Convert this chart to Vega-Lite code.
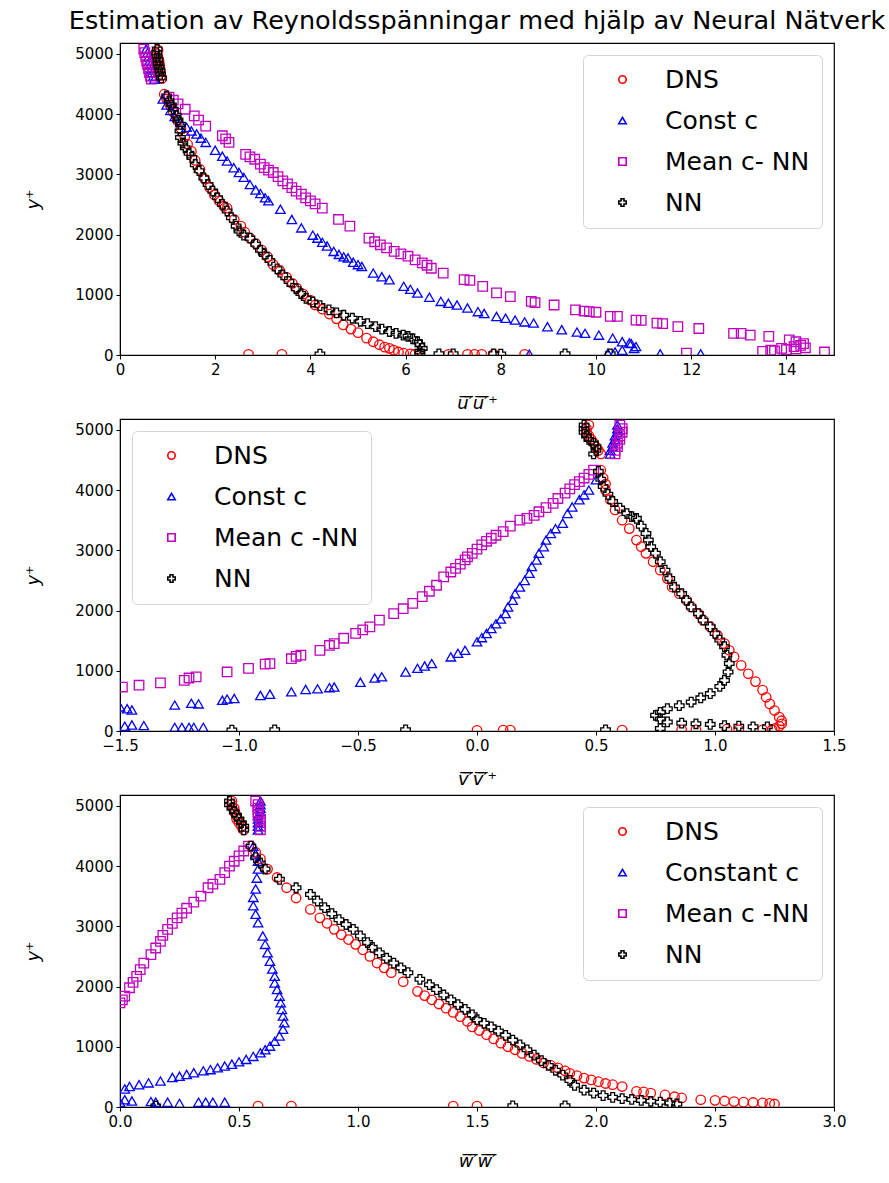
{
"$schema":"https://vega.github.io/schema/vega-lite/v6.json",
"padding":{"left":24,"top":8,"right":5,"bottom":5},
"background":"white",
"title":{"text":"Estimation av Reynoldsspänningar med hjälp av Neural Nätverk","font":"DejaVu Sans","fontSize":25.5,"fontWeight":"normal","color":"black","anchor":"middle","frame":"group","offset":8},
"config":{
 "font":"DejaVu Sans",
 "view":{"stroke":"black","strokeWidth":1.2},
 "axis":{"domainColor":"black","tickColor":"black","labelColor":"black","titleColor":"black","grid":false,"labelFontSize":15,"labelFont":"DejaVu Sans","tickSize":4,"labelPadding":3,"titleFontWeight":"normal","titleFontSize":18,"titleFont":"DejaVu Sans","labelFlush":false,"labelOverlap":false},
 "axisY":{"titlePadding":32,"titleFontStyle":"italic"},
 "axisX":{"titlePadding":17,"titleFontStyle":"italic"},
 "legend":{"offset":12,"padding":12,"labelFontSize":25,"labelFont":"DejaVu Sans","labelColor":"black","rowPadding":15,"symbolSize":55,"symbolStrokeWidth":1.6,"symbolOffset":15,"labelOffset":30,"strokeColor":"#d4d4d4","strokeWidth":1,"cornerRadius":5,"fillColor":"white","title":null}
},
"data":{"values":[
{"p":1,"s":"DNS","x":0.80,"y":5060},{"p":1,"s":"DNS","x":0.78,"y":5000},{"p":1,"s":"DNS","x":0.80,"y":4940},{"p":1,"s":"DNS","x":0.82,"y":4880},{"p":1,"s":"DNS","x":0.83,"y":4820},{"p":1,"s":"DNS","x":0.84,"y":4760},{"p":1,"s":"DNS","x":0.85,"y":4700},{"p":1,"s":"DNS","x":0.86,"y":4640},{"p":1,"s":"DNS","x":0.88,"y":4590},
{"p":1,"s":"DNS","x":0.93,"y":4330},{"p":1,"s":"DNS","x":0.98,"y":4250},{"p":1,"s":"DNS","x":1.05,"y":4150},{"p":1,"s":"DNS","x":1.12,"y":4030},{"p":1,"s":"DNS","x":1.2,"y":3900},{"p":1,"s":"DNS","x":1.28,"y":3760},{"p":1,"s":"DNS","x":1.36,"y":3620},{"p":1,"s":"DNS","x":1.42,"y":3500},{"p":1,"s":"DNS","x":1.5,"y":3380},{"p":1,"s":"DNS","x":1.58,"y":3230},{"p":1,"s":"DNS","x":1.68,"y":3080},{"p":1,"s":"DNS","x":1.78,"y":2920},{"p":1,"s":"DNS","x":1.88,"y":2780},{"p":1,"s":"DNS","x":1.98,"y":2660},{"p":1,"s":"DNS","x":2.08,"y":2560},{"p":1,"s":"DNS","x":2.18,"y":2470},{"p":1,"s":"DNS","x":2.25,"y":2440},{"p":1,"s":"DNS","x":2.4,"y":2250},{"p":1,"s":"DNS","x":2.54,"y":2140},{"p":1,"s":"DNS","x":2.62,"y":2040},{"p":1,"s":"DNS","x":2.73,"y":1940},{"p":1,"s":"DNS","x":2.85,"y":1850},{"p":1,"s":"DNS","x":2.98,"y":1740},{"p":1,"s":"DNS","x":3.1,"y":1630},{"p":1,"s":"DNS","x":3.22,"y":1500},{"p":1,"s":"DNS","x":3.35,"y":1410},{"p":1,"s":"DNS","x":3.5,"y":1290},{"p":1,"s":"DNS","x":3.62,"y":1190},{"p":1,"s":"DNS","x":3.71,"y":1110},{"p":1,"s":"DNS","x":3.85,"y":1010},{"p":1,"s":"DNS","x":4.0,"y":910},{"p":1,"s":"DNS","x":4.1,"y":830},{"p":1,"s":"DNS","x":4.25,"y":760},{"p":1,"s":"DNS","x":4.4,"y":680},{"p":1,"s":"DNS","x":4.55,"y":600},{"p":1,"s":"DNS","x":4.69,"y":500},{"p":1,"s":"DNS","x":4.85,"y":430},{"p":1,"s":"DNS","x":5.0,"y":370},{"p":1,"s":"DNS","x":5.18,"y":280},{"p":1,"s":"DNS","x":5.32,"y":220},{"p":1,"s":"DNS","x":5.45,"y":170},{"p":1,"s":"DNS","x":5.56,"y":130},{"p":1,"s":"DNS","x":5.66,"y":110},{"p":1,"s":"DNS","x":5.75,"y":80},{"p":1,"s":"DNS","x":5.85,"y":50},{"p":1,"s":"DNS","x":5.96,"y":30},
{"p":1,"s":"DNS","x":2.7,"y":10},{"p":1,"s":"DNS","x":3.4,"y":10},{"p":1,"s":"DNS","x":6.1,"y":20},{"p":1,"s":"DNS","x":6.2,"y":15},{"p":1,"s":"DNS","x":6.9,"y":10},{"p":1,"s":"DNS","x":7.3,"y":10},{"p":1,"s":"DNS","x":7.45,"y":10},{"p":1,"s":"DNS","x":7.6,"y":10},{"p":1,"s":"DNS","x":7.85,"y":15},{"p":1,"s":"DNS","x":8.5,"y":10},
{"p":1,"s":"Const c","x":0.55,"y":5080},{"p":1,"s":"Const c","x":0.58,"y":5020},{"p":1,"s":"Const c","x":0.6,"y":4950},{"p":1,"s":"Const c","x":0.62,"y":4880},{"p":1,"s":"Const c","x":0.64,"y":4820},{"p":1,"s":"Const c","x":0.66,"y":4750},{"p":1,"s":"Const c","x":0.68,"y":4690},{"p":1,"s":"Const c","x":0.7,"y":4630},{"p":1,"s":"Const c","x":0.72,"y":4580},
{"p":1,"s":"Const c","x":0.9,"y":4250},{"p":1,"s":"Const c","x":0.98,"y":4150},{"p":1,"s":"Const c","x":1.06,"y":4060},{"p":1,"s":"Const c","x":1.15,"y":3960},{"p":1,"s":"Const c","x":1.27,"y":3860},{"p":1,"s":"Const c","x":1.4,"y":3780},{"p":1,"s":"Const c","x":1.5,"y":3720},{"p":1,"s":"Const c","x":1.61,"y":3670},{"p":1,"s":"Const c","x":1.7,"y":3600},{"p":1,"s":"Const c","x":1.8,"y":3530},{"p":1,"s":"Const c","x":2.0,"y":3400},{"p":1,"s":"Const c","x":2.15,"y":3300},{"p":1,"s":"Const c","x":2.25,"y":3220},{"p":1,"s":"Const c","x":2.39,"y":3110},{"p":1,"s":"Const c","x":2.5,"y":3030},{"p":1,"s":"Const c","x":2.6,"y":2950},{"p":1,"s":"Const c","x":2.73,"y":2830},{"p":1,"s":"Const c","x":2.85,"y":2740},{"p":1,"s":"Const c","x":2.95,"y":2680},{"p":1,"s":"Const c","x":3.05,"y":2610},{"p":1,"s":"Const c","x":3.12,"y":2560},{"p":1,"s":"Const c","x":3.37,"y":2420},{"p":1,"s":"Const c","x":3.61,"y":2250},{"p":1,"s":"Const c","x":3.81,"y":2110},{"p":1,"s":"Const c","x":4.05,"y":1990},{"p":1,"s":"Const c","x":4.15,"y":1940},{"p":1,"s":"Const c","x":4.25,"y":1870},{"p":1,"s":"Const c","x":4.35,"y":1810},{"p":1,"s":"Const c","x":4.49,"y":1720},{"p":1,"s":"Const c","x":4.6,"y":1670},{"p":1,"s":"Const c","x":4.7,"y":1630},{"p":1,"s":"Const c","x":4.79,"y":1610},{"p":1,"s":"Const c","x":4.9,"y":1540},{"p":1,"s":"Const c","x":5.0,"y":1500},{"p":1,"s":"Const c","x":5.08,"y":1470},{"p":1,"s":"Const c","x":5.32,"y":1360},{"p":1,"s":"Const c","x":5.5,"y":1300},{"p":1,"s":"Const c","x":5.66,"y":1250},{"p":1,"s":"Const c","x":5.96,"y":1140},{"p":1,"s":"Const c","x":6.1,"y":1090},{"p":1,"s":"Const c","x":6.25,"y":1030},{"p":1,"s":"Const c","x":6.5,"y":960},{"p":1,"s":"Const c","x":6.74,"y":890},{"p":1,"s":"Const c","x":6.9,"y":860},{"p":1,"s":"Const c","x":7.08,"y":830},{"p":1,"s":"Const c","x":7.3,"y":780},{"p":1,"s":"Const c","x":7.52,"y":720},{"p":1,"s":"Const c","x":7.65,"y":690},{"p":1,"s":"Const c","x":7.91,"y":640},{"p":1,"s":"Const c","x":8.1,"y":610},{"p":1,"s":"Const c","x":8.3,"y":580},{"p":1,"s":"Const c","x":8.5,"y":550},{"p":1,"s":"Const c","x":8.69,"y":530},{"p":1,"s":"Const c","x":8.98,"y":470},{"p":1,"s":"Const c","x":9.28,"y":420},{"p":1,"s":"Const c","x":9.6,"y":380},{"p":1,"s":"Const c","x":9.77,"y":360},{"p":1,"s":"Const c","x":10.06,"y":330},{"p":1,"s":"Const c","x":10.35,"y":280},{"p":1,"s":"Const c","x":10.55,"y":220},{"p":1,"s":"Const c","x":10.7,"y":200},{"p":1,"s":"Const c","x":10.74,"y":190},{"p":1,"s":"Const c","x":10.84,"y":140},{"p":1,"s":"Const c","x":10.8,"y":110},{"p":1,"s":"Const c","x":10.55,"y":80},{"p":1,"s":"Const c","x":10.4,"y":50},
{"p":1,"s":"Const c","x":8.6,"y":15},{"p":1,"s":"Const c","x":10.25,"y":30},{"p":1,"s":"Const c","x":11.35,"y":20},{"p":1,"s":"Const c","x":12.2,"y":20},
{"p":1,"s":"Mean c- NN","x":0.5,"y":5080},{"p":1,"s":"Mean c- NN","x":0.52,"y":5020},{"p":1,"s":"Mean c- NN","x":0.54,"y":4950},{"p":1,"s":"Mean c- NN","x":0.56,"y":4880},{"p":1,"s":"Mean c- NN","x":0.58,"y":4820},{"p":1,"s":"Mean c- NN","x":0.6,"y":4750},{"p":1,"s":"Mean c- NN","x":0.62,"y":4690},{"p":1,"s":"Mean c- NN","x":0.64,"y":4630},{"p":1,"s":"Mean c- NN","x":0.66,"y":4580},
{"p":1,"s":"Mean c- NN","x":1.03,"y":4280},{"p":1,"s":"Mean c- NN","x":1.12,"y":4230},{"p":1,"s":"Mean c- NN","x":1.22,"y":4170},{"p":1,"s":"Mean c- NN","x":1.37,"y":4080},{"p":1,"s":"Mean c- NN","x":1.56,"y":3970},{"p":1,"s":"Mean c- NN","x":1.65,"y":3900},{"p":1,"s":"Mean c- NN","x":1.8,"y":3800},{"p":1,"s":"Mean c- NN","x":2.15,"y":3640},{"p":1,"s":"Mean c- NN","x":2.22,"y":3590},{"p":1,"s":"Mean c- NN","x":2.29,"y":3530},{"p":1,"s":"Mean c- NN","x":2.64,"y":3330},{"p":1,"s":"Mean c- NN","x":2.73,"y":3290},{"p":1,"s":"Mean c- NN","x":2.83,"y":3250},{"p":1,"s":"Mean c- NN","x":2.95,"y":3170},{"p":1,"s":"Mean c- NN","x":3.03,"y":3110},{"p":1,"s":"Mean c- NN","x":3.12,"y":3070},{"p":1,"s":"Mean c- NN","x":3.22,"y":3030},{"p":1,"s":"Mean c- NN","x":3.32,"y":2960},{"p":1,"s":"Mean c- NN","x":3.42,"y":2890},{"p":1,"s":"Mean c- NN","x":3.52,"y":2840},{"p":1,"s":"Mean c- NN","x":3.61,"y":2780},{"p":1,"s":"Mean c- NN","x":3.7,"y":2720},{"p":1,"s":"Mean c- NN","x":3.81,"y":2670},{"p":1,"s":"Mean c- NN","x":3.9,"y":2610},{"p":1,"s":"Mean c- NN","x":4.0,"y":2560},{"p":1,"s":"Mean c- NN","x":4.1,"y":2510},{"p":1,"s":"Mean c- NN","x":4.25,"y":2440},{"p":1,"s":"Mean c- NN","x":4.59,"y":2250},{"p":1,"s":"Mean c- NN","x":4.83,"y":2140},{"p":1,"s":"Mean c- NN","x":5.23,"y":1940},{"p":1,"s":"Mean c- NN","x":5.35,"y":1880},{"p":1,"s":"Mean c- NN","x":5.47,"y":1830},{"p":1,"s":"Mean c- NN","x":5.6,"y":1780},{"p":1,"s":"Mean c- NN","x":5.76,"y":1720},{"p":1,"s":"Mean c- NN","x":5.9,"y":1680},{"p":1,"s":"Mean c- NN","x":6.05,"y":1640},{"p":1,"s":"Mean c- NN","x":6.2,"y":1580},{"p":1,"s":"Mean c- NN","x":6.35,"y":1530},{"p":1,"s":"Mean c- NN","x":6.45,"y":1490},{"p":1,"s":"Mean c- NN","x":6.54,"y":1440},{"p":1,"s":"Mean c- NN","x":6.79,"y":1360},{"p":1,"s":"Mean c- NN","x":7.23,"y":1250},{"p":1,"s":"Mean c- NN","x":7.35,"y":1240},{"p":1,"s":"Mean c- NN","x":7.62,"y":1140},{"p":1,"s":"Mean c- NN","x":7.91,"y":1030},{"p":1,"s":"Mean c- NN","x":8.2,"y":970},{"p":1,"s":"Mean c- NN","x":8.64,"y":890},{"p":1,"s":"Mean c- NN","x":8.72,"y":870},{"p":1,"s":"Mean c- NN","x":9.12,"y":830},{"p":1,"s":"Mean c- NN","x":9.57,"y":750},{"p":1,"s":"Mean c- NN","x":9.75,"y":730},{"p":1,"s":"Mean c- NN","x":9.86,"y":720},{"p":1,"s":"Mean c- NN","x":10.0,"y":710},{"p":1,"s":"Mean c- NN","x":10.3,"y":640},{"p":1,"s":"Mean c- NN","x":10.45,"y":640},{"p":1,"s":"Mean c- NN","x":10.84,"y":580},{"p":1,"s":"Mean c- NN","x":10.95,"y":575},{"p":1,"s":"Mean c- NN","x":11.28,"y":530},{"p":1,"s":"Mean c- NN","x":11.4,"y":520},{"p":1,"s":"Mean c- NN","x":11.72,"y":470},{"p":1,"s":"Mean c- NN","x":12.16,"y":440},{"p":1,"s":"Mean c- NN","x":12.89,"y":360},{"p":1,"s":"Mean c- NN","x":13.05,"y":360},{"p":1,"s":"Mean c- NN","x":13.24,"y":330},{"p":1,"s":"Mean c- NN","x":13.63,"y":310},{"p":1,"s":"Mean c- NN","x":14.06,"y":250},{"p":1,"s":"Mean c- NN","x":14.2,"y":220},{"p":1,"s":"Mean c- NN","x":14.36,"y":190},{"p":1,"s":"Mean c- NN","x":14.3,"y":160},{"p":1,"s":"Mean c- NN","x":14.16,"y":140},{"p":1,"s":"Mean c- NN","x":13.9,"y":110},{"p":1,"s":"Mean c- NN","x":13.67,"y":80},{"p":1,"s":"Mean c- NN","x":13.5,"y":60},{"p":1,"s":"Mean c- NN","x":13.75,"y":70},{"p":1,"s":"Mean c- NN","x":14.0,"y":90},{"p":1,"s":"Mean c- NN","x":14.2,"y":100},{"p":1,"s":"Mean c- NN","x":14.4,"y":120},{"p":1,"s":"Mean c- NN","x":14.8,"y":50},{"p":1,"s":"Mean c- NN","x":11.9,"y":30},
{"p":1,"s":"NN","x":0.78,"y":5080},{"p":1,"s":"NN","x":0.77,"y":5020},{"p":1,"s":"NN","x":0.78,"y":4960},{"p":1,"s":"NN","x":0.8,"y":4900},{"p":1,"s":"NN","x":0.8,"y":4840},{"p":1,"s":"NN","x":0.82,"y":4780},{"p":1,"s":"NN","x":0.84,"y":4720},{"p":1,"s":"NN","x":0.85,"y":4660},{"p":1,"s":"NN","x":0.87,"y":4600},
{"p":1,"s":"NN","x":0.98,"y":4300},{"p":1,"s":"NN","x":1.03,"y":4220},{"p":1,"s":"NN","x":1.08,"y":4150},{"p":1,"s":"NN","x":1.12,"y":4080},{"p":1,"s":"NN","x":1.18,"y":3980},{"p":1,"s":"NN","x":1.22,"y":3900},{"p":1,"s":"NN","x":1.27,"y":3830},{"p":1,"s":"NN","x":1.26,"y":3720},{"p":1,"s":"NN","x":1.27,"y":3610},{"p":1,"s":"NN","x":1.32,"y":3520},{"p":1,"s":"NN","x":1.37,"y":3440},{"p":1,"s":"NN","x":1.45,"y":3350},{"p":1,"s":"NN","x":1.51,"y":3280},{"p":1,"s":"NN","x":1.58,"y":3160},{"p":1,"s":"NN","x":1.66,"y":3060},{"p":1,"s":"NN","x":1.76,"y":2940},{"p":1,"s":"NN","x":1.85,"y":2830},{"p":1,"s":"NN","x":1.95,"y":2720},{"p":1,"s":"NN","x":2.05,"y":2610},{"p":1,"s":"NN","x":2.15,"y":2500},{"p":1,"s":"NN","x":2.25,"y":2390},{"p":1,"s":"NN","x":2.34,"y":2280},{"p":1,"s":"NN","x":2.44,"y":2140},{"p":1,"s":"NN","x":2.5,"y":2060},{"p":1,"s":"NN","x":2.6,"y":1990},{"p":1,"s":"NN","x":2.73,"y":1940},{"p":1,"s":"NN","x":2.85,"y":1840},{"p":1,"s":"NN","x":2.95,"y":1740},{"p":1,"s":"NN","x":3.03,"y":1670},{"p":1,"s":"NN","x":3.15,"y":1570},{"p":1,"s":"NN","x":3.3,"y":1430},{"p":1,"s":"NN","x":3.42,"y":1330},{"p":1,"s":"NN","x":3.55,"y":1220},{"p":1,"s":"NN","x":3.7,"y":1100},{"p":1,"s":"NN","x":3.8,"y":1020},{"p":1,"s":"NN","x":3.91,"y":940},{"p":1,"s":"NN","x":4.05,"y":880},{"p":1,"s":"NN","x":4.2,"y":820},{"p":1,"s":"NN","x":4.39,"y":750},{"p":1,"s":"NN","x":4.55,"y":700},{"p":1,"s":"NN","x":4.7,"y":660},{"p":1,"s":"NN","x":4.88,"y":610},{"p":1,"s":"NN","x":5.05,"y":560},{"p":1,"s":"NN","x":5.2,"y":520},{"p":1,"s":"NN","x":5.37,"y":470},{"p":1,"s":"NN","x":5.5,"y":430},{"p":1,"s":"NN","x":5.66,"y":390},{"p":1,"s":"NN","x":5.8,"y":360},{"p":1,"s":"NN","x":5.95,"y":330},{"p":1,"s":"NN","x":6.05,"y":310},{"p":1,"s":"NN","x":6.15,"y":270},{"p":1,"s":"NN","x":6.25,"y":220},{"p":1,"s":"NN","x":6.3,"y":170},{"p":1,"s":"NN","x":6.35,"y":110},{"p":1,"s":"NN","x":6.3,"y":60},{"p":1,"s":"NN","x":6.3,"y":30},
{"p":1,"s":"NN","x":4.2,"y":15},{"p":1,"s":"NN","x":6.7,"y":20},{"p":1,"s":"NN","x":7.0,"y":20},{"p":1,"s":"NN","x":7.85,"y":20},{"p":1,"s":"NN","x":8.0,"y":15},{"p":1,"s":"NN","x":9.35,"y":20},{"p":1,"s":"NN","x":10.3,"y":20},

{"p":2,"s":"DNS","x":0.47,"y":5080},{"p":2,"s":"DNS","x":0.46,"y":5020},{"p":2,"s":"DNS","x":0.46,"y":4960},{"p":2,"s":"DNS","x":0.47,"y":4900},{"p":2,"s":"DNS","x":0.48,"y":4840},{"p":2,"s":"DNS","x":0.49,"y":4780},{"p":2,"s":"DNS","x":0.5,"y":4720},{"p":2,"s":"DNS","x":0.51,"y":4660},{"p":2,"s":"DNS","x":0.52,"y":4600},
{"p":2,"s":"DNS","x":0.52,"y":4330},{"p":2,"s":"DNS","x":0.53,"y":4200},{"p":2,"s":"DNS","x":0.54,"y":4100},{"p":2,"s":"DNS","x":0.54,"y":4000},{"p":2,"s":"DNS","x":0.56,"y":3840},{"p":2,"s":"DNS","x":0.58,"y":3670},{"p":2,"s":"DNS","x":0.61,"y":3500},{"p":2,"s":"DNS","x":0.64,"y":3360},{"p":2,"s":"DNS","x":0.67,"y":3170},{"p":2,"s":"DNS","x":0.69,"y":3060},{"p":2,"s":"DNS","x":0.71,"y":2950},{"p":2,"s":"DNS","x":0.74,"y":2810},{"p":2,"s":"DNS","x":0.77,"y":2670},{"p":2,"s":"DNS","x":0.8,"y":2530},{"p":2,"s":"DNS","x":0.82,"y":2390},{"p":2,"s":"DNS","x":0.85,"y":2280},{"p":2,"s":"DNS","x":0.88,"y":2170},{"p":2,"s":"DNS","x":0.9,"y":2060},{"p":2,"s":"DNS","x":0.93,"y":1950},{"p":2,"s":"DNS","x":0.95,"y":1840},{"p":2,"s":"DNS","x":0.98,"y":1730},{"p":2,"s":"DNS","x":1.01,"y":1590},{"p":2,"s":"DNS","x":1.04,"y":1450},{"p":2,"s":"DNS","x":1.06,"y":1340},{"p":2,"s":"DNS","x":1.08,"y":1230},{"p":2,"s":"DNS","x":1.11,"y":1090},{"p":2,"s":"DNS","x":1.14,"y":950},{"p":2,"s":"DNS","x":1.17,"y":820},{"p":2,"s":"DNS","x":1.2,"y":680},{"p":2,"s":"DNS","x":1.215,"y":560},{"p":2,"s":"DNS","x":1.23,"y":450},{"p":2,"s":"DNS","x":1.25,"y":340},{"p":2,"s":"DNS","x":1.27,"y":230},{"p":2,"s":"DNS","x":1.28,"y":170},{"p":2,"s":"DNS","x":1.28,"y":120},{"p":2,"s":"DNS","x":1.27,"y":80},{"p":2,"s":"DNS","x":1.25,"y":40},
{"p":2,"s":"DNS","x":0.0,"y":10},{"p":2,"s":"DNS","x":0.11,"y":15},{"p":2,"s":"DNS","x":0.14,"y":15},{"p":2,"s":"DNS","x":0.61,"y":15},{"p":2,"s":"DNS","x":0.86,"y":20},{"p":2,"s":"DNS","x":0.92,"y":20},{"p":2,"s":"DNS","x":1.05,"y":30},{"p":2,"s":"DNS","x":1.1,"y":20},{"p":2,"s":"DNS","x":1.2,"y":20},{"p":2,"s":"DNS","x":1.24,"y":20},
{"p":2,"s":"Const c","x":0.59,"y":5080},{"p":2,"s":"Const c","x":0.59,"y":5020},{"p":2,"s":"Const c","x":0.59,"y":4960},{"p":2,"s":"Const c","x":0.58,"y":4900},{"p":2,"s":"Const c","x":0.58,"y":4840},{"p":2,"s":"Const c","x":0.57,"y":4780},{"p":2,"s":"Const c","x":0.57,"y":4720},{"p":2,"s":"Const c","x":0.56,"y":4660},{"p":2,"s":"Const c","x":0.56,"y":4600},
{"p":2,"s":"Const c","x":0.5,"y":4170},{"p":2,"s":"Const c","x":0.47,"y":4000},{"p":2,"s":"Const c","x":0.45,"y":3920},{"p":2,"s":"Const c","x":0.43,"y":3840},{"p":2,"s":"Const c","x":0.4,"y":3720},{"p":2,"s":"Const c","x":0.38,"y":3610},{"p":2,"s":"Const c","x":0.36,"y":3450},{"p":2,"s":"Const c","x":0.33,"y":3360},{"p":2,"s":"Const c","x":0.31,"y":3280},{"p":2,"s":"Const c","x":0.29,"y":3170},{"p":2,"s":"Const c","x":0.28,"y":3060},{"p":2,"s":"Const c","x":0.26,"y":2950},{"p":2,"s":"Const c","x":0.25,"y":2840},{"p":2,"s":"Const c","x":0.23,"y":2730},{"p":2,"s":"Const c","x":0.22,"y":2620},{"p":2,"s":"Const c","x":0.2,"y":2500},{"p":2,"s":"Const c","x":0.18,"y":2390},{"p":2,"s":"Const c","x":0.16,"y":2280},{"p":2,"s":"Const c","x":0.15,"y":2170},{"p":2,"s":"Const c","x":0.13,"y":2060},{"p":2,"s":"Const c","x":0.12,"y":1950},{"p":2,"s":"Const c","x":0.1,"y":1860},{"p":2,"s":"Const c","x":0.08,"y":1780},{"p":2,"s":"Const c","x":0.06,"y":1700},{"p":2,"s":"Const c","x":0.04,"y":1620},{"p":2,"s":"Const c","x":0.02,"y":1550},{"p":2,"s":"Const c","x":0.0,"y":1480},{"p":2,"s":"Const c","x":-0.05,"y":1340},{"p":2,"s":"Const c","x":-0.08,"y":1290},{"p":2,"s":"Const c","x":-0.11,"y":1230},{"p":2,"s":"Const c","x":-0.19,"y":1120},{"p":2,"s":"Const c","x":-0.22,"y":1080},{"p":2,"s":"Const c","x":-0.25,"y":1040},{"p":2,"s":"Const c","x":-0.3,"y":980},{"p":2,"s":"Const c","x":-0.4,"y":900},{"p":2,"s":"Const c","x":-0.43,"y":880},{"p":2,"s":"Const c","x":-0.49,"y":810},{"p":2,"s":"Const c","x":-0.6,"y":730},{"p":2,"s":"Const c","x":-0.62,"y":720},{"p":2,"s":"Const c","x":-0.67,"y":700},{"p":2,"s":"Const c","x":-0.72,"y":690},{"p":2,"s":"Const c","x":-0.78,"y":650},{"p":2,"s":"Const c","x":-0.87,"y":610},{"p":2,"s":"Const c","x":-0.91,"y":590},{"p":2,"s":"Const c","x":-1.02,"y":540},{"p":2,"s":"Const c","x":-1.05,"y":530},{"p":2,"s":"Const c","x":-1.07,"y":510},{"p":2,"s":"Const c","x":-1.17,"y":450},{"p":2,"s":"Const c","x":-1.2,"y":460},{"p":2,"s":"Const c","x":-1.27,"y":430},{"p":2,"s":"Const c","x":-1.47,"y":370},{"p":2,"s":"Const c","x":-1.45,"y":350},{"p":2,"s":"Const c","x":-1.5,"y":400},
{"p":2,"s":"Const c","x":-1.48,"y":80},{"p":2,"s":"Const c","x":-1.45,"y":100},{"p":2,"s":"Const c","x":-1.4,"y":90},{"p":2,"s":"Const c","x":-1.27,"y":60},{"p":2,"s":"Const c","x":-1.24,"y":60},{"p":2,"s":"Const c","x":-1.21,"y":60},{"p":2,"s":"Const c","x":-1.19,"y":60},{"p":2,"s":"Const c","x":-1.15,"y":60},
{"p":2,"s":"Mean c -NN","x":0.6,"y":5080},{"p":2,"s":"Mean c -NN","x":0.61,"y":5020},{"p":2,"s":"Mean c -NN","x":0.61,"y":4960},{"p":2,"s":"Mean c -NN","x":0.6,"y":4900},{"p":2,"s":"Mean c -NN","x":0.6,"y":4840},{"p":2,"s":"Mean c -NN","x":0.59,"y":4780},{"p":2,"s":"Mean c -NN","x":0.59,"y":4720},{"p":2,"s":"Mean c -NN","x":0.58,"y":4660},{"p":2,"s":"Mean c -NN","x":0.58,"y":4600},
{"p":2,"s":"Mean c -NN","x":0.49,"y":4330},{"p":2,"s":"Mean c -NN","x":0.47,"y":4260},{"p":2,"s":"Mean c -NN","x":0.45,"y":4200},{"p":2,"s":"Mean c -NN","x":0.43,"y":4140},{"p":2,"s":"Mean c -NN","x":0.41,"y":4090},{"p":2,"s":"Mean c -NN","x":0.39,"y":4020},{"p":2,"s":"Mean c -NN","x":0.37,"y":3950},{"p":2,"s":"Mean c -NN","x":0.34,"y":3860},{"p":2,"s":"Mean c -NN","x":0.32,"y":3780},{"p":2,"s":"Mean c -NN","x":0.29,"y":3710},{"p":2,"s":"Mean c -NN","x":0.26,"y":3640},{"p":2,"s":"Mean c -NN","x":0.24,"y":3580},{"p":2,"s":"Mean c -NN","x":0.21,"y":3530},{"p":2,"s":"Mean c -NN","x":0.18,"y":3500},{"p":2,"s":"Mean c -NN","x":0.14,"y":3400},{"p":2,"s":"Mean c -NN","x":0.11,"y":3310},{"p":2,"s":"Mean c -NN","x":0.08,"y":3250},{"p":2,"s":"Mean c -NN","x":0.06,"y":3200},{"p":2,"s":"Mean c -NN","x":0.04,"y":3150},{"p":2,"s":"Mean c -NN","x":0.02,"y":3090},{"p":2,"s":"Mean c -NN","x":0.0,"y":3020},{"p":2,"s":"Mean c -NN","x":-0.02,"y":2950},{"p":2,"s":"Mean c -NN","x":-0.04,"y":2890},{"p":2,"s":"Mean c -NN","x":-0.05,"y":2840},{"p":2,"s":"Mean c -NN","x":-0.07,"y":2770},{"p":2,"s":"Mean c -NN","x":-0.09,"y":2700},{"p":2,"s":"Mean c -NN","x":-0.11,"y":2640},{"p":2,"s":"Mean c -NN","x":-0.14,"y":2560},{"p":2,"s":"Mean c -NN","x":-0.17,"y":2420},{"p":2,"s":"Mean c -NN","x":-0.2,"y":2320},{"p":2,"s":"Mean c -NN","x":-0.23,"y":2230},{"p":2,"s":"Mean c -NN","x":-0.27,"y":2120},{"p":2,"s":"Mean c -NN","x":-0.31,"y":2030},{"p":2,"s":"Mean c -NN","x":-0.35,"y":1950},{"p":2,"s":"Mean c -NN","x":-0.41,"y":1840},{"p":2,"s":"Mean c -NN","x":-0.45,"y":1730},{"p":2,"s":"Mean c -NN","x":-0.48,"y":1680},{"p":2,"s":"Mean c -NN","x":-0.51,"y":1620},{"p":2,"s":"Mean c -NN","x":-0.56,"y":1540},{"p":2,"s":"Mean c -NN","x":-0.6,"y":1450},{"p":2,"s":"Mean c -NN","x":-0.62,"y":1420},{"p":2,"s":"Mean c -NN","x":-0.66,"y":1340},{"p":2,"s":"Mean c -NN","x":-0.74,"y":1260},{"p":2,"s":"Mean c -NN","x":-0.76,"y":1240},{"p":2,"s":"Mean c -NN","x":-0.78,"y":1200},{"p":2,"s":"Mean c -NN","x":-0.87,"y":1120},{"p":2,"s":"Mean c -NN","x":-0.89,"y":1110},{"p":2,"s":"Mean c -NN","x":-0.96,"y":1040},{"p":2,"s":"Mean c -NN","x":-1.05,"y":980},{"p":2,"s":"Mean c -NN","x":-1.18,"y":900},{"p":2,"s":"Mean c -NN","x":-1.21,"y":880},{"p":2,"s":"Mean c -NN","x":-1.23,"y":840},{"p":2,"s":"Mean c -NN","x":-1.33,"y":800},{"p":2,"s":"Mean c -NN","x":-1.42,"y":760},{"p":2,"s":"Mean c -NN","x":-1.49,"y":730},
{"p":2,"s":"NN","x":0.45,"y":5080},{"p":2,"s":"NN","x":0.45,"y":5020},{"p":2,"s":"NN","x":0.45,"y":4960},{"p":2,"s":"NN","x":0.46,"y":4900},{"p":2,"s":"NN","x":0.47,"y":4840},{"p":2,"s":"NN","x":0.49,"y":4780},{"p":2,"s":"NN","x":0.5,"y":4720},{"p":2,"s":"NN","x":0.5,"y":4660},{"p":2,"s":"NN","x":0.49,"y":4600},
{"p":2,"s":"NN","x":0.51,"y":4310},{"p":2,"s":"NN","x":0.52,"y":4180},{"p":2,"s":"NN","x":0.53,"y":4060},{"p":2,"s":"NN","x":0.55,"y":3930},{"p":2,"s":"NN","x":0.57,"y":3810},{"p":2,"s":"NN","x":0.6,"y":3700},{"p":2,"s":"NN","x":0.63,"y":3610},{"p":2,"s":"NN","x":0.65,"y":3560},{"p":2,"s":"NN","x":0.67,"y":3530},{"p":2,"s":"NN","x":0.69,"y":3400},{"p":2,"s":"NN","x":0.71,"y":3280},{"p":2,"s":"NN","x":0.72,"y":3170},{"p":2,"s":"NN","x":0.73,"y":3060},{"p":2,"s":"NN","x":0.75,"y":2950},{"p":2,"s":"NN","x":0.77,"y":2810},{"p":2,"s":"NN","x":0.79,"y":2670},{"p":2,"s":"NN","x":0.81,"y":2530},{"p":2,"s":"NN","x":0.83,"y":2390},{"p":2,"s":"NN","x":0.86,"y":2280},{"p":2,"s":"NN","x":0.88,"y":2170},{"p":2,"s":"NN","x":0.9,"y":2060},{"p":2,"s":"NN","x":0.93,"y":1950},{"p":2,"s":"NN","x":0.95,"y":1840},{"p":2,"s":"NN","x":0.98,"y":1730},{"p":2,"s":"NN","x":1.0,"y":1620},{"p":2,"s":"NN","x":1.02,"y":1510},{"p":2,"s":"NN","x":1.04,"y":1400},{"p":2,"s":"NN","x":1.05,"y":1260},{"p":2,"s":"NN","x":1.06,"y":1120},{"p":2,"s":"NN","x":1.055,"y":980},{"p":2,"s":"NN","x":1.04,"y":840},{"p":2,"s":"NN","x":1.02,"y":740},{"p":2,"s":"NN","x":0.98,"y":620},{"p":2,"s":"NN","x":0.94,"y":550},{"p":2,"s":"NN","x":0.9,"y":480},{"p":2,"s":"NN","x":0.85,"y":420},{"p":2,"s":"NN","x":0.8,"y":370},{"p":2,"s":"NN","x":0.77,"y":310},{"p":2,"s":"NN","x":0.75,"y":260},{"p":2,"s":"NN","x":0.77,"y":200},{"p":2,"s":"NN","x":0.8,"y":150},{"p":2,"s":"NN","x":0.86,"y":130},{"p":2,"s":"NN","x":0.92,"y":120},{"p":2,"s":"NN","x":0.98,"y":110},{"p":2,"s":"NN","x":1.04,"y":90},{"p":2,"s":"NN","x":1.1,"y":80},{"p":2,"s":"NN","x":1.16,"y":70},{"p":2,"s":"NN","x":1.22,"y":70},
{"p":2,"s":"NN","x":-1.03,"y":15},{"p":2,"s":"NN","x":-0.85,"y":20},{"p":2,"s":"NN","x":-0.3,"y":20},{"p":2,"s":"NN","x":0.54,"y":20},{"p":2,"s":"NN","x":0.77,"y":40},

{"p":3,"s":"DNS","x":0.47,"y":5080},{"p":3,"s":"DNS","x":0.47,"y":5020},{"p":3,"s":"DNS","x":0.48,"y":4960},{"p":3,"s":"DNS","x":0.48,"y":4900},{"p":3,"s":"DNS","x":0.49,"y":4840},{"p":3,"s":"DNS","x":0.49,"y":4780},{"p":3,"s":"DNS","x":0.5,"y":4720},{"p":3,"s":"DNS","x":0.51,"y":4660},{"p":3,"s":"DNS","x":0.52,"y":4600},
{"p":3,"s":"DNS","x":0.55,"y":4330},{"p":3,"s":"DNS","x":0.57,"y":4230},{"p":3,"s":"DNS","x":0.59,"y":4120},{"p":3,"s":"DNS","x":0.62,"y":3950},{"p":3,"s":"DNS","x":0.66,"y":3810},{"p":3,"s":"DNS","x":0.7,"y":3640},{"p":3,"s":"DNS","x":0.74,"y":3470},{"p":3,"s":"DNS","x":0.8,"y":3280},{"p":3,"s":"DNS","x":0.84,"y":3140},{"p":3,"s":"DNS","x":0.87,"y":3050},{"p":3,"s":"DNS","x":0.9,"y":2950},{"p":3,"s":"DNS","x":0.93,"y":2860},{"p":3,"s":"DNS","x":0.96,"y":2780},{"p":3,"s":"DNS","x":0.99,"y":2700},{"p":3,"s":"DNS","x":1.02,"y":2610},{"p":3,"s":"DNS","x":1.05,"y":2500},{"p":3,"s":"DNS","x":1.08,"y":2390},{"p":3,"s":"DNS","x":1.11,"y":2310},{"p":3,"s":"DNS","x":1.14,"y":2230},{"p":3,"s":"DNS","x":1.19,"y":2080},{"p":3,"s":"DNS","x":1.25,"y":1920},{"p":3,"s":"DNS","x":1.28,"y":1850},{"p":3,"s":"DNS","x":1.31,"y":1780},{"p":3,"s":"DNS","x":1.34,"y":1710},{"p":3,"s":"DNS","x":1.37,"y":1640},{"p":3,"s":"DNS","x":1.4,"y":1570},{"p":3,"s":"DNS","x":1.43,"y":1500},{"p":3,"s":"DNS","x":1.46,"y":1420},{"p":3,"s":"DNS","x":1.48,"y":1330},{"p":3,"s":"DNS","x":1.51,"y":1270},{"p":3,"s":"DNS","x":1.54,"y":1200},{"p":3,"s":"DNS","x":1.57,"y":1130},{"p":3,"s":"DNS","x":1.6,"y":1060},{"p":3,"s":"DNS","x":1.63,"y":1000},{"p":3,"s":"DNS","x":1.66,"y":950},{"p":3,"s":"DNS","x":1.69,"y":890},{"p":3,"s":"DNS","x":1.72,"y":840},{"p":3,"s":"DNS","x":1.75,"y":790},{"p":3,"s":"DNS","x":1.78,"y":730},{"p":3,"s":"DNS","x":1.81,"y":690},{"p":3,"s":"DNS","x":1.84,"y":650},{"p":3,"s":"DNS","x":1.87,"y":600},{"p":3,"s":"DNS","x":1.89,"y":560},{"p":3,"s":"DNS","x":1.92,"y":520},{"p":3,"s":"DNS","x":1.95,"y":480},{"p":3,"s":"DNS","x":1.98,"y":450},{"p":3,"s":"DNS","x":2.01,"y":420},{"p":3,"s":"DNS","x":2.04,"y":390},{"p":3,"s":"DNS","x":2.07,"y":370},{"p":3,"s":"DNS","x":2.11,"y":340},{"p":3,"s":"DNS","x":2.17,"y":260},{"p":3,"s":"DNS","x":2.2,"y":250},{"p":3,"s":"DNS","x":2.23,"y":230},{"p":3,"s":"DNS","x":2.29,"y":200},{"p":3,"s":"DNS","x":2.33,"y":170},{"p":3,"s":"DNS","x":2.36,"y":150},{"p":3,"s":"DNS","x":2.44,"y":120},{"p":3,"s":"DNS","x":2.5,"y":110},{"p":3,"s":"DNS","x":2.54,"y":100},{"p":3,"s":"DNS","x":2.58,"y":90},{"p":3,"s":"DNS","x":2.62,"y":80},{"p":3,"s":"DNS","x":2.66,"y":75},{"p":3,"s":"DNS","x":2.7,"y":70},{"p":3,"s":"DNS","x":2.73,"y":60},{"p":3,"s":"DNS","x":2.75,"y":50},
{"p":3,"s":"DNS","x":0.58,"y":15},{"p":3,"s":"DNS","x":0.72,"y":15},{"p":3,"s":"DNS","x":1.4,"y":15},{"p":3,"s":"DNS","x":1.5,"y":15},
{"p":3,"s":"Constant c","x":0.59,"y":5080},{"p":3,"s":"Constant c","x":0.59,"y":5020},{"p":3,"s":"Constant c","x":0.59,"y":4960},{"p":3,"s":"Constant c","x":0.59,"y":4900},{"p":3,"s":"Constant c","x":0.58,"y":4840},{"p":3,"s":"Constant c","x":0.58,"y":4780},{"p":3,"s":"Constant c","x":0.58,"y":4720},{"p":3,"s":"Constant c","x":0.58,"y":4660},{"p":3,"s":"Constant c","x":0.58,"y":4600},
{"p":3,"s":"Constant c","x":0.56,"y":4330},{"p":3,"s":"Constant c","x":0.57,"y":4200},{"p":3,"s":"Constant c","x":0.58,"y":4080},{"p":3,"s":"Constant c","x":0.58,"y":3950},{"p":3,"s":"Constant c","x":0.575,"y":3800},{"p":3,"s":"Constant c","x":0.57,"y":3620},{"p":3,"s":"Constant c","x":0.56,"y":3480},{"p":3,"s":"Constant c","x":0.56,"y":3340},{"p":3,"s":"Constant c","x":0.57,"y":3200},{"p":3,"s":"Constant c","x":0.58,"y":3060},{"p":3,"s":"Constant c","x":0.6,"y":2840},{"p":3,"s":"Constant c","x":0.61,"y":2700},{"p":3,"s":"Constant c","x":0.62,"y":2560},{"p":3,"s":"Constant c","x":0.63,"y":2420},{"p":3,"s":"Constant c","x":0.64,"y":2290},{"p":3,"s":"Constant c","x":0.65,"y":2170},{"p":3,"s":"Constant c","x":0.65,"y":2060},{"p":3,"s":"Constant c","x":0.66,"y":1950},{"p":3,"s":"Constant c","x":0.67,"y":1840},{"p":3,"s":"Constant c","x":0.675,"y":1730},{"p":3,"s":"Constant c","x":0.68,"y":1620},{"p":3,"s":"Constant c","x":0.685,"y":1510},{"p":3,"s":"Constant c","x":0.69,"y":1400},{"p":3,"s":"Constant c","x":0.685,"y":1290},{"p":3,"s":"Constant c","x":0.67,"y":1180},{"p":3,"s":"Constant c","x":0.65,"y":1090},{"p":3,"s":"Constant c","x":0.63,"y":1010},{"p":3,"s":"Constant c","x":0.61,"y":950},{"p":3,"s":"Constant c","x":0.59,"y":900},{"p":3,"s":"Constant c","x":0.56,"y":840},{"p":3,"s":"Constant c","x":0.53,"y":790},{"p":3,"s":"Constant c","x":0.5,"y":750},{"p":3,"s":"Constant c","x":0.47,"y":710},{"p":3,"s":"Constant c","x":0.44,"y":680},{"p":3,"s":"Constant c","x":0.41,"y":650},{"p":3,"s":"Constant c","x":0.38,"y":620},{"p":3,"s":"Constant c","x":0.35,"y":600},{"p":3,"s":"Constant c","x":0.31,"y":570},{"p":3,"s":"Constant c","x":0.28,"y":540},{"p":3,"s":"Constant c","x":0.25,"y":510},{"p":3,"s":"Constant c","x":0.22,"y":490},{"p":3,"s":"Constant c","x":0.17,"y":430},{"p":3,"s":"Constant c","x":0.12,"y":400},{"p":3,"s":"Constant c","x":0.08,"y":370},{"p":3,"s":"Constant c","x":0.04,"y":340},{"p":3,"s":"Constant c","x":0.02,"y":300},
{"p":3,"s":"Constant c","x":0.0,"y":80},{"p":3,"s":"Constant c","x":0.05,"y":100},{"p":3,"s":"Constant c","x":0.13,"y":90},{"p":3,"s":"Constant c","x":0.15,"y":80},{"p":3,"s":"Constant c","x":0.2,"y":80},{"p":3,"s":"Constant c","x":0.25,"y":60},{"p":3,"s":"Constant c","x":0.33,"y":80},{"p":3,"s":"Constant c","x":0.36,"y":80},{"p":3,"s":"Constant c","x":0.39,"y":80},{"p":3,"s":"Constant c","x":0.44,"y":80},{"p":3,"s":"Constant c","x":0.02,"y":120},
{"p":3,"s":"Mean c -NN","x":0.57,"y":5080},{"p":3,"s":"Mean c -NN","x":0.58,"y":5020},{"p":3,"s":"Mean c -NN","x":0.58,"y":4960},{"p":3,"s":"Mean c -NN","x":0.58,"y":4900},{"p":3,"s":"Mean c -NN","x":0.58,"y":4840},{"p":3,"s":"Mean c -NN","x":0.59,"y":4780},{"p":3,"s":"Mean c -NN","x":0.59,"y":4720},{"p":3,"s":"Mean c -NN","x":0.59,"y":4660},{"p":3,"s":"Mean c -NN","x":0.59,"y":4600},
{"p":3,"s":"Mean c -NN","x":0.54,"y":4330},{"p":3,"s":"Mean c -NN","x":0.52,"y":4250},{"p":3,"s":"Mean c -NN","x":0.5,"y":4170},{"p":3,"s":"Mean c -NN","x":0.48,"y":4080},{"p":3,"s":"Mean c -NN","x":0.46,"y":4000},{"p":3,"s":"Mean c -NN","x":0.44,"y":3890},{"p":3,"s":"Mean c -NN","x":0.42,"y":3780},{"p":3,"s":"Mean c -NN","x":0.39,"y":3700},{"p":3,"s":"Mean c -NN","x":0.37,"y":3640},{"p":3,"s":"Mean c -NN","x":0.34,"y":3500},{"p":3,"s":"Mean c -NN","x":0.31,"y":3400},{"p":3,"s":"Mean c -NN","x":0.28,"y":3300},{"p":3,"s":"Mean c -NN","x":0.26,"y":3220},{"p":3,"s":"Mean c -NN","x":0.24,"y":3140},{"p":3,"s":"Mean c -NN","x":0.22,"y":3050},{"p":3,"s":"Mean c -NN","x":0.2,"y":2950},{"p":3,"s":"Mean c -NN","x":0.18,"y":2850},{"p":3,"s":"Mean c -NN","x":0.17,"y":2750},{"p":3,"s":"Mean c -NN","x":0.15,"y":2640},{"p":3,"s":"Mean c -NN","x":0.13,"y":2530},{"p":3,"s":"Mean c -NN","x":0.1,"y":2390},{"p":3,"s":"Mean c -NN","x":0.085,"y":2280},{"p":3,"s":"Mean c -NN","x":0.07,"y":2170},{"p":3,"s":"Mean c -NN","x":0.055,"y":2070},{"p":3,"s":"Mean c -NN","x":0.04,"y":1980},{"p":3,"s":"Mean c -NN","x":0.02,"y":1840},{"p":3,"s":"Mean c -NN","x":0.01,"y":1780},{"p":3,"s":"Mean c -NN","x":0.0,"y":1730},
{"p":3,"s":"NN","x":0.46,"y":5080},{"p":3,"s":"NN","x":0.46,"y":5020},{"p":3,"s":"NN","x":0.47,"y":4960},{"p":3,"s":"NN","x":0.48,"y":4900},{"p":3,"s":"NN","x":0.49,"y":4840},{"p":3,"s":"NN","x":0.5,"y":4780},{"p":3,"s":"NN","x":0.51,"y":4720},{"p":3,"s":"NN","x":0.52,"y":4660},{"p":3,"s":"NN","x":0.52,"y":4600},
{"p":3,"s":"NN","x":0.55,"y":4330},{"p":3,"s":"NN","x":0.57,"y":4140},{"p":3,"s":"NN","x":0.59,"y":4050},{"p":3,"s":"NN","x":0.61,"y":3950},{"p":3,"s":"NN","x":0.67,"y":3780},{"p":3,"s":"NN","x":0.74,"y":3640},{"p":3,"s":"NN","x":0.8,"y":3530},{"p":3,"s":"NN","x":0.83,"y":3420},{"p":3,"s":"NN","x":0.86,"y":3310},{"p":3,"s":"NN","x":0.89,"y":3210},{"p":3,"s":"NN","x":0.92,"y":3110},{"p":3,"s":"NN","x":0.95,"y":3030},{"p":3,"s":"NN","x":0.98,"y":2950},{"p":3,"s":"NN","x":1.01,"y":2840},{"p":3,"s":"NN","x":1.04,"y":2730},{"p":3,"s":"NN","x":1.06,"y":2650},{"p":3,"s":"NN","x":1.09,"y":2560},{"p":3,"s":"NN","x":1.12,"y":2470},{"p":3,"s":"NN","x":1.15,"y":2390},{"p":3,"s":"NN","x":1.18,"y":2310},{"p":3,"s":"NN","x":1.21,"y":2230},{"p":3,"s":"NN","x":1.26,"y":2120},{"p":3,"s":"NN","x":1.3,"y":2030},{"p":3,"s":"NN","x":1.33,"y":1950},{"p":3,"s":"NN","x":1.36,"y":1860},{"p":3,"s":"NN","x":1.39,"y":1780},{"p":3,"s":"NN","x":1.42,"y":1700},{"p":3,"s":"NN","x":1.45,"y":1620},{"p":3,"s":"NN","x":1.48,"y":1530},{"p":3,"s":"NN","x":1.5,"y":1450},{"p":3,"s":"NN","x":1.53,"y":1390},{"p":3,"s":"NN","x":1.56,"y":1330},{"p":3,"s":"NN","x":1.59,"y":1260},{"p":3,"s":"NN","x":1.62,"y":1190},{"p":3,"s":"NN","x":1.65,"y":1110},{"p":3,"s":"NN","x":1.68,"y":1030},{"p":3,"s":"NN","x":1.71,"y":950},{"p":3,"s":"NN","x":1.74,"y":860},{"p":3,"s":"NN","x":1.77,"y":770},{"p":3,"s":"NN","x":1.8,"y":690},{"p":3,"s":"NN","x":1.83,"y":610},{"p":3,"s":"NN","x":1.86,"y":530},{"p":3,"s":"NN","x":1.89,"y":440},{"p":3,"s":"NN","x":1.91,"y":360},{"p":3,"s":"NN","x":1.95,"y":280},{"p":3,"s":"NN","x":1.99,"y":230},{"p":3,"s":"NN","x":2.03,"y":190},{"p":3,"s":"NN","x":2.07,"y":160},{"p":3,"s":"NN","x":2.11,"y":140},{"p":3,"s":"NN","x":2.15,"y":125},{"p":3,"s":"NN","x":2.19,"y":110},{"p":3,"s":"NN","x":2.23,"y":95},{"p":3,"s":"NN","x":2.27,"y":80},{"p":3,"s":"NN","x":2.31,"y":65},{"p":3,"s":"NN","x":2.34,"y":50},
{"p":3,"s":"NN","x":0.15,"y":15},{"p":3,"s":"NN","x":1.65,"y":20},{"p":3,"s":"NN","x":1.87,"y":20}
]},
"spacing":64,
"bounds":"flush",
"resolve":{"scale":{"x":"independent","y":"independent","color":"independent","shape":"independent"},"legend":{"color":"independent","shape":"independent"}},
"vconcat":[
{"width":714,"height":312,
 "transform":[{"filter":"datum.p == 1"}],
 "mark":{"type":"point","filled":false,"size":90,"strokeWidth":1.3,"opacity":1,"clip":true},
 "encoding":{
  "x":{"field":"x","type":"quantitative","scale":{"domain":[0,15],"nice":false,"zero":false},"axis":{"values":[0,2,4,6,8,10,12,14],"format":"d","title":"u\u0305\u2032\u0305u\u0305\u2032\u0305\u207a"}},
  "y":{"field":"y","type":"quantitative","scale":{"domain":[0,5180],"nice":false},"axis":{"values":[0,1000,2000,3000,4000,5000],"format":"d","title":"y\u207a"}},
  "color":{"field":"s","type":"nominal","scale":{"domain":["DNS","Const c","Mean c- NN","NN"],"range":["#ff0000","#0000ff","#bf00bf","#000000"]},"legend":{"orient":"top-right","title":null}},
  "shape":{"field":"s","type":"nominal","scale":{"domain":["DNS","Const c","Mean c- NN","NN"],"range":["circle","triangle-up","square","cross"]},"legend":{"orient":"top-right","title":null}}
 }},
{"width":714,"height":312,
 "transform":[{"filter":"datum.p == 2"}],
 "mark":{"type":"point","filled":false,"size":90,"strokeWidth":1.3,"opacity":1,"clip":true},
 "encoding":{
  "x":{"field":"x","type":"quantitative","scale":{"domain":[-1.5,1.5],"nice":false,"zero":false},"axis":{"values":[-1.5,-1,-0.5,0,0.5,1,1.5],"format":".1f","title":"v\u0305\u2032\u0305v\u0305\u2032\u0305\u207a"}},
  "y":{"field":"y","type":"quantitative","scale":{"domain":[0,5180],"nice":false},"axis":{"values":[0,1000,2000,3000,4000,5000],"format":"d","title":"y\u207a"}},
  "color":{"field":"s","type":"nominal","scale":{"domain":["DNS","Const c","Mean c -NN","NN"],"range":["#ff0000","#0000ff","#bf00bf","#000000"]},"legend":{"orient":"top-left","title":null}},
  "shape":{"field":"s","type":"nominal","scale":{"domain":["DNS","Const c","Mean c -NN","NN"],"range":["circle","triangle-up","square","cross"]},"legend":{"orient":"top-left","title":null}}
 }},
{"width":714,"height":312,
 "transform":[{"filter":"datum.p == 3"}],
 "mark":{"type":"point","filled":false,"size":90,"strokeWidth":1.3,"opacity":1,"clip":true},
 "encoding":{
  "x":{"field":"x","type":"quantitative","scale":{"domain":[0,3],"nice":false,"zero":false},"axis":{"values":[0,0.5,1,1.5,2,2.5,3],"format":".1f","title":"w\u0305\u2032\u0305w\u0305\u2032\u0305","titlePadding":23}},
  "y":{"field":"y","type":"quantitative","scale":{"domain":[0,5180],"nice":false},"axis":{"values":[0,1000,2000,3000,4000,5000],"format":"d","title":"y\u207a"}},
  "color":{"field":"s","type":"nominal","scale":{"domain":["DNS","Constant c","Mean c -NN","NN"],"range":["#ff0000","#0000ff","#bf00bf","#000000"]},"legend":{"orient":"top-right","title":null}},
  "shape":{"field":"s","type":"nominal","scale":{"domain":["DNS","Constant c","Mean c -NN","NN"],"range":["circle","triangle-up","square","cross"]},"legend":{"orient":"top-right","title":null}}
 }}
]
}
